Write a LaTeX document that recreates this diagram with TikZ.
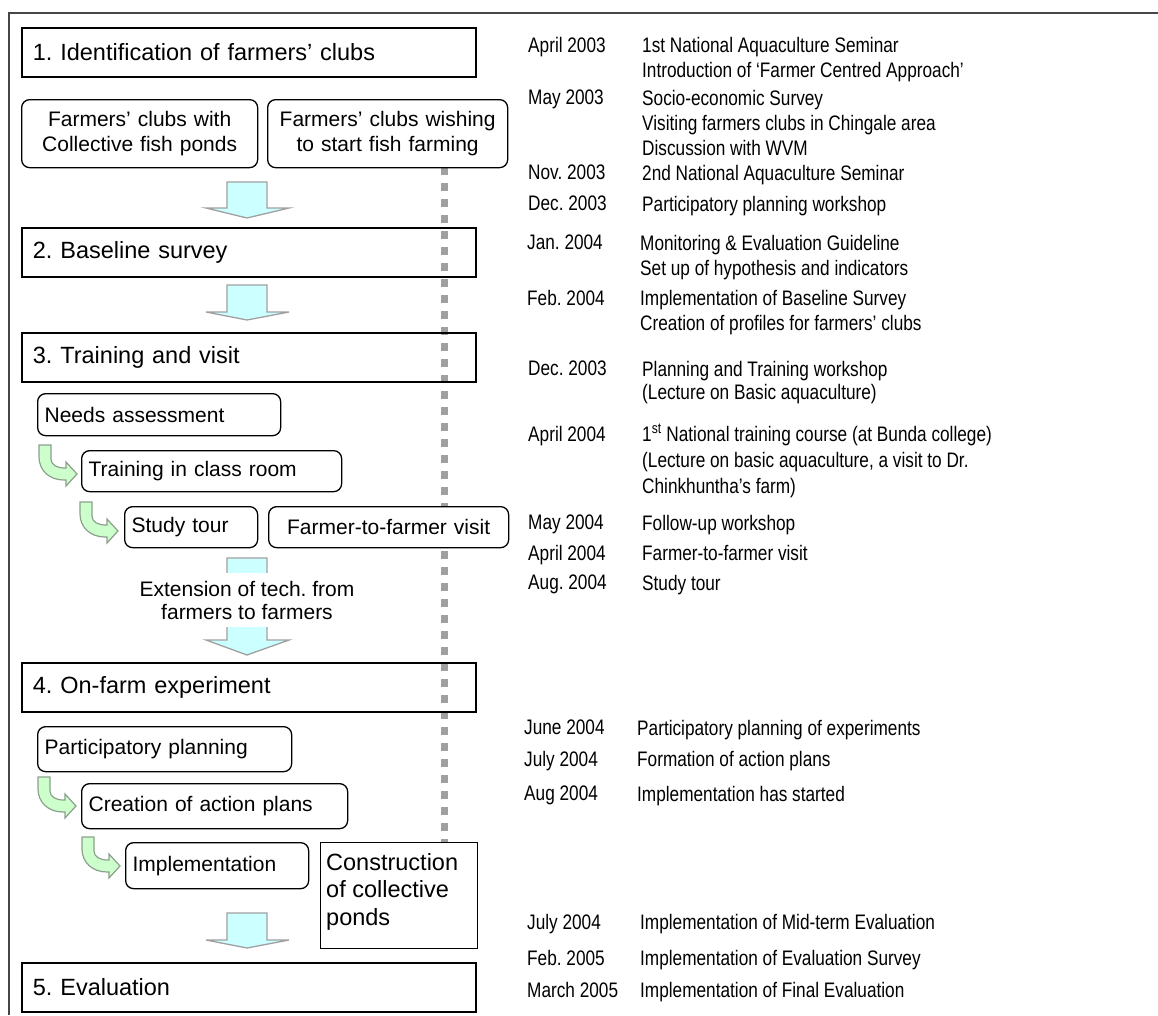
\documentclass[tikz,border=0pt]{standalone}
\usepackage{fontspec}
\setmainfont{Liberation Sans}
\newfontfamily\narrowfont{Liberation Sans}[FakeStretch=0.82]
\usetikzlibrary{positioning}
\frenchspacing
\definecolor{cCyan}{RGB}{204,255,255}
\definecolor{cMint}{RGB}{204,255,204}
\definecolor{cEdge}{RGB}{160,160,160}
\definecolor{cLeaf}{RGB}{140,160,140}
\definecolor{cFrame}{RGB}{70,70,70}
\tikzset{
	stagebox/.style={rectangle, draw=black, line width=1.8, anchor=north west, minimum height=49, text width=432, inner xsep=11, align=left, font=\fontsize{23.5}{28}\selectfont},
	stepbox/.style ={rectangle, rounded corners=8, draw=black, fill=white, line width=1.3, anchor=north west, inner xsep=7, align=left, font=\fontsize{21}{25}\selectfont},
	pondbox/.style ={rectangle, draw=black, fill=white, line width=1.3, anchor=north west, minimum width=157, minimum height=106, inner sep=0},
	datetxt/.style ={anchor=north west, inner sep=0, align=left, font=\narrowfont\fontsize{21}{25}\selectfont},
	blkarr/.style  ={draw=cEdge, fill=cCyan, line width=1.3, line join=miter},
	bendarr/.style ={draw=cLeaf, fill=cMint, line width=1.2},
	guide/.style   ={draw=cEdge, line width=7, dash pattern=on 8 off 8},
	framel/.style  ={draw=cFrame, line width=2},
}
% big down arrow: top of shaft, base of head, tip
\newcommand\blkarrow[3]{\draw[blkarr] (227,#1) -- (267,#1) -- (267,#2) -- (289,#2) -- (247,#3) -- (206,#2) -- (227,#2) -- cycle;}
% small bent arrow at top-left corner of its shaft
\newcommand\bendarrow[2]{\draw[bendarr, shift={(#1,#2)}] (0,0) -- (12,0) -- (12,14) .. controls (12,20) and (18,23) .. (26,23) -- (27,23) -- (27,17) -- (38,29) -- (27,41) -- (27,35) -- (25,35) .. controls (10,35) and (0,25) .. (0,12) -- cycle;}

\begin{document}
\begin{tikzpicture}[x=1pt, y=-1pt]
	\useasboundingbox (0,0) rectangle (1158,1015);
	% frame
	\draw[framel] (9,1015) -- (9,13) -- (1158,13);
	% dotted guide, behind the boxes
	\coordinate (gtop) at (444,167);
	\coordinate (gbot) at (444,842);
	\draw[guide] (gtop) -- (gbot);
	% stages
	\node[stagebox] (s1) at (21,27) {1. Identification of farmers’ clubs};
	\node[stagebox] (s2) at (21,227) {2. Baseline survey};
	\node[stagebox] (s3) at (21,332) {3. Training and visit};
	\node[stagebox] (s4) at (21,662) {4. On-farm experiment};
	\node[stagebox] (s5) at (21,962) {5. Evaluation};
	% stage 1
	\node[stepbox, align=center, text width=222, minimum height=68] (clubA) at (21,99) {Farmers’ clubs with\\Collective fish ponds};
	\node[stepbox, align=center, text width=226, minimum height=68] (clubB) at (267,99) {Farmers’ clubs wishing\\to start fish farming};
	\blkarrow{182}{208}{218}
	\blkarrow{285}{312}{320}
	% stage 3
	\node[stepbox, text width=229, minimum height=42] (needs) at (37,393) {Needs assessment};
	\node[stepbox, text width=246, minimum height=41] (room) at (81,450) {Training in class room};
	\node[stepbox, text width=119, minimum height=41] (tour) at (124,506) {Study tour};
	\node[stepbox, align=center, text width=226, minimum height=41] (visit) at (268,506) {Farmer-to-farmer visit};
	\bendarrow{39}{445}
	\bendarrow{80}{502}
	\blkarrow{558}{640}{655}
	\node[fill=white, minimum width=257, minimum height=54, align=center, font=\fontsize{21}{23}\selectfont] (ext) at (247,600) {Extension of tech. from\\farmers to farmers};
	% stage 4
	\node[stepbox, text width=240, minimum height=45] (plan) at (37,726) {Participatory planning};
	\node[stepbox, text width=252, minimum height=45] (action) at (81,783) {Creation of action plans};
	\node[stepbox, text width=169, minimum height=46] (impl) at (125,842) {Implementation};
	\bendarrow{38}{777}
	\bendarrow{82}{837}
	\node[pondbox] (ponds) at (320,842) {};
	\node[anchor=north west, inner sep=0, align=left, font=\fontsize{23.5}{27.5}\selectfont] (pondtxt) at ([xshift=6,yshift=-11]ponds.north west) {Construction\\of collective\\ponds};
	\blkarrow{913}{940}{948}
	% time line
	\node[datetxt] (d1) at (528,37) {April 2003};
	\node[datetxt] (t1) at ([xshift=114]d1.north west) {1st National Aquaculture Seminar\\Introduction of ‘Farmer Centred Approach’};
	\node[datetxt] (d2) at (528,90) {May 2003};
	\node[datetxt] (t2) at ([xshift=114]d2.north west) {Socio-economic Survey\\Visiting farmers clubs in Chingale area\\Discussion with WVM};
	\node[datetxt] (d3) at (528,165) {Nov. 2003};
	\node[datetxt] (t3) at ([xshift=114]d3.north west) {2nd National Aquaculture Seminar};
	\node[datetxt] (d4) at (528,196) {Dec. 2003};
	\node[datetxt] (t4) at ([xshift=114]d4.north west) {Participatory planning workshop};
	\node[datetxt] (d5) at (527,235) {Jan. 2004};
	\node[datetxt] (t5) at ([xshift=113]d5.north west) {Monitoring \& Evaluation Guideline\\Set up of hypothesis and indicators};
	\node[datetxt] (d6) at (527,290) {Feb. 2004};
	\node[datetxt] (t6) at ([xshift=113]d6.north west) {Implementation of Baseline Survey\\Creation of profiles for farmers’ clubs};
	\node[datetxt] (d7) at (528,361) {Dec. 2003};
	\node[datetxt, font=\narrowfont\fontsize{21}{23}\selectfont] (t7) at ([xshift=114]d7.north west) {Planning and Training workshop\\(Lecture on Basic aquaculture)};
	\node[datetxt] (d8) at (528,426) {April 2004};
	\node[datetxt, font=\narrowfont\fontsize{21}{26}\selectfont] (t8) at ([xshift=114]d8.north west) {1\smash{\textsuperscript{st}} National training course (at Bunda college)\\(Lecture on basic aquaculture, a visit to Dr.\\Chinkhuntha’s farm)};
	\node[datetxt] (d9) at (528,515) {May 2004};
	\node[datetxt] (t9) at ([xshift=114]d9.north west) {Follow-up workshop};
	\node[datetxt] (d10) at (528,545) {April 2004};
	\node[datetxt] (t10) at ([xshift=114]d10.north west) {Farmer-to-farmer visit};
	\node[datetxt] (d11) at (528,575) {Aug. 2004};
	\node[datetxt] (t11) at ([xshift=114]d11.north west) {Study tour};
	\node[datetxt] (d12) at (524,720) {June 2004};
	\node[datetxt] (t12) at ([xshift=113]d12.north west) {Participatory planning of experiments};
	\node[datetxt] (d13) at (524,751) {July 2004};
	\node[datetxt] (t13) at ([xshift=113]d13.north west) {Formation of action plans};
	\node[datetxt] (d14) at (524,786) {Aug 2004};
	\node[datetxt] (t14) at ([xshift=113]d14.north west) {Implementation has started};
	\node[datetxt] (d15) at (527,914) {July 2004};
	\node[datetxt] (t15) at ([xshift=113]d15.north west) {Implementation of Mid-term Evaluation};
	\node[datetxt] (d16) at (527,950) {Feb. 2005};
	\node[datetxt] (t16) at ([xshift=113]d16.north west) {Implementation of Evaluation Survey};
	\node[datetxt] (d17) at (527,982) {March 2005};
	\node[datetxt] (t17) at ([xshift=113]d17.north west) {Implementation of Final Evaluation};
\end{tikzpicture}
\end{document}
